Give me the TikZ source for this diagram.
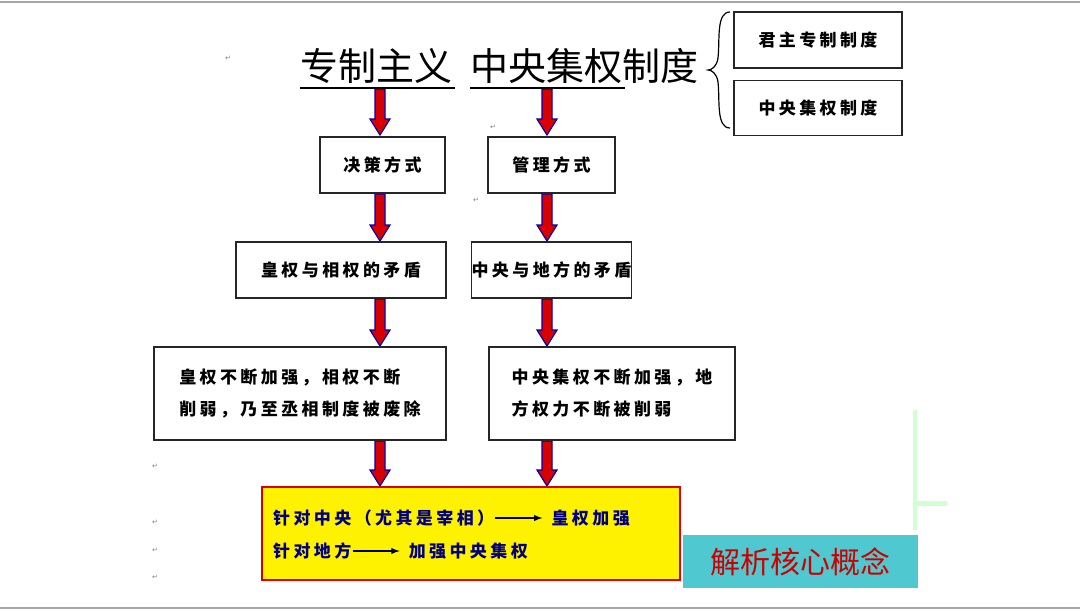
\documentclass[tikz,border=0pt]{standalone}
\usepackage{fontspec}
\newfontfamily\cjk{Noto Sans CJK SC}
\newfontfamily\cjksp[LetterSpace=20]{Noto Sans CJK SC}
\newfontfamily\djvfont{DejaVu Sans}
\begin{document}
\begin{tikzpicture}[x=1pt,y=-1pt,
  box/.style={draw=black!85,line width=1.6pt,fill=white,inner sep=0pt},
  txt/.style={font=\cjksp\bfseries\fontsize{17}{32}\selectfont,align=left},
  rm/.style={font=\djvfont\fontsize{7}{7}\selectfont,text=gray},
]
\useasboundingbox (0,0) rectangle (1080,611);
\fill[white] (0,0) rectangle (1080,611);
\draw[gray!70,line width=2pt] (0,2) -- (1080,2);
\draw[gray!70,line width=2pt] (0,608) -- (1080,608);
% arrows
\newcommand{\blockarrow}[3]{%
  \filldraw[fill=red!85!black,draw=blue!70!black,line width=1.2pt]
   (#1-5,#2) -- (#1+5,#2) -- (#1+5,#3-16) -- (#1+10,#3-16) -- (#1,#3) -- (#1-10,#3-16) -- (#1-5,#3-16) -- cycle;}
\blockarrow{380}{89}{135}
\blockarrow{547}{89}{135}
\blockarrow{380}{194}{241}
\blockarrow{547}{194}{241}
\blockarrow{380}{299}{346}
\blockarrow{547}{299}{346}
\blockarrow{380}{441}{486}
\blockarrow{547}{441}{486}
% title
\node[font=\cjk\fontsize{38}{38}\selectfont,anchor=base west,inner sep=0pt] (t1) at (300,80) {专制主义};
\node[font=\cjk\fontsize{38}{38}\selectfont,anchor=base west,inner sep=0pt] (t2) at (470,80) {中央集权制度};
\draw[line width=2pt] (300,88) -- (455,88);
\draw[line width=2pt] (470,88) -- (625,88);
\draw[line width=1.2pt] (730,12) .. controls (716,12) and (720,40) .. (718,58) .. controls (717,66) and (712,70) .. (708,70) .. controls (712,70) and (717,74) .. (718,82) .. controls (720,100) and (716,128) .. (730,128);
% right boxes
\node[box,minimum width=168pt,minimum height=56pt,txt] (b1) at (818,40) {君主专制制度};
\node[box,minimum width=168pt,minimum height=55pt,txt] (b2) at (818,108) {中央集权制度};
% level boxes
\node[box,minimum width=125pt,minimum height=56pt,txt] (c1) at (382.5,165) {决策方式};
\node[box,minimum width=127pt,minimum height=56pt,txt] (c2) at (551.5,165) {管理方式};
\node[box,minimum width=210pt,minimum height=56pt,txt] (d1) at (341,270) {皇权与相权的矛盾};
\node[box,minimum width=127pt,minimum height=56pt,txt] (d2) at (551.5,270) {中央与地方的矛盾};
\node[box,minimum width=292pt,minimum height=93pt,txt] (e1) at (300,393.5) {皇权不断加强，相权不断\\削弱，乃至丞相制度被废除};
\node[box,minimum width=246pt,minimum height=93pt,txt] (e2) at (612,393.5) {中央集权不断加强，地\\方权力不断被削弱};
% yellow box
\node[draw=red!85!black,line width=1.8pt,fill=yellow,minimum width=418pt,minimum height=93pt] (y) at (471,533.5) {};
\node[txt,text=blue!50!black,anchor=west,inner sep=1pt] (y1) at (272,518) {针对中央（尤其是宰相）};
\node[txt,text=blue!50!black,anchor=west,inner sep=1pt] (y2) at ([xshift=55pt]y1.east) {皇权加强};
\node[txt,text=blue!50!black,anchor=west,inner sep=1pt] (y3) at (272,551) {针对地方};
\node[txt,text=blue!50!black,anchor=west,inner sep=1pt] (y4) at ([xshift=55pt]y3.east) {加强中央集权};
\draw[-latex,line width=1.8pt] (y1.east) -- ([xshift=-8pt]y2.west);
\draw[-latex,line width=1.8pt] (y3.east) -- ([xshift=-8pt]y4.west);
% cyan label
\node[fill={rgb,255:red,80;green,200;blue,208},minimum width=235pt,minimum height=53pt,text=red!80!black,font=\cjk\fontsize{30}{30}\selectfont] (lab) at (800.5,561.5) {解析核心概念};
% green decoration
\draw[green!18,line width=4pt] (915,410) -- (915,530);
\draw[green!18,line width=5pt] (915,503) -- (947,503);
% return marks
\node[rm] (r1) at (228,58) {↵};
\node[rm] (r2) at (493,127) {↵};
\node[rm] (r3) at (476,200) {↵};
\node[rm] (r4) at (155,466) {↵};
\node[rm] (r5) at (155,522) {↵};
\node[rm] (r6) at (155,550) {↵};
\node[rm] (r7) at (155,577) {↵};
\end{tikzpicture}
\end{document}
